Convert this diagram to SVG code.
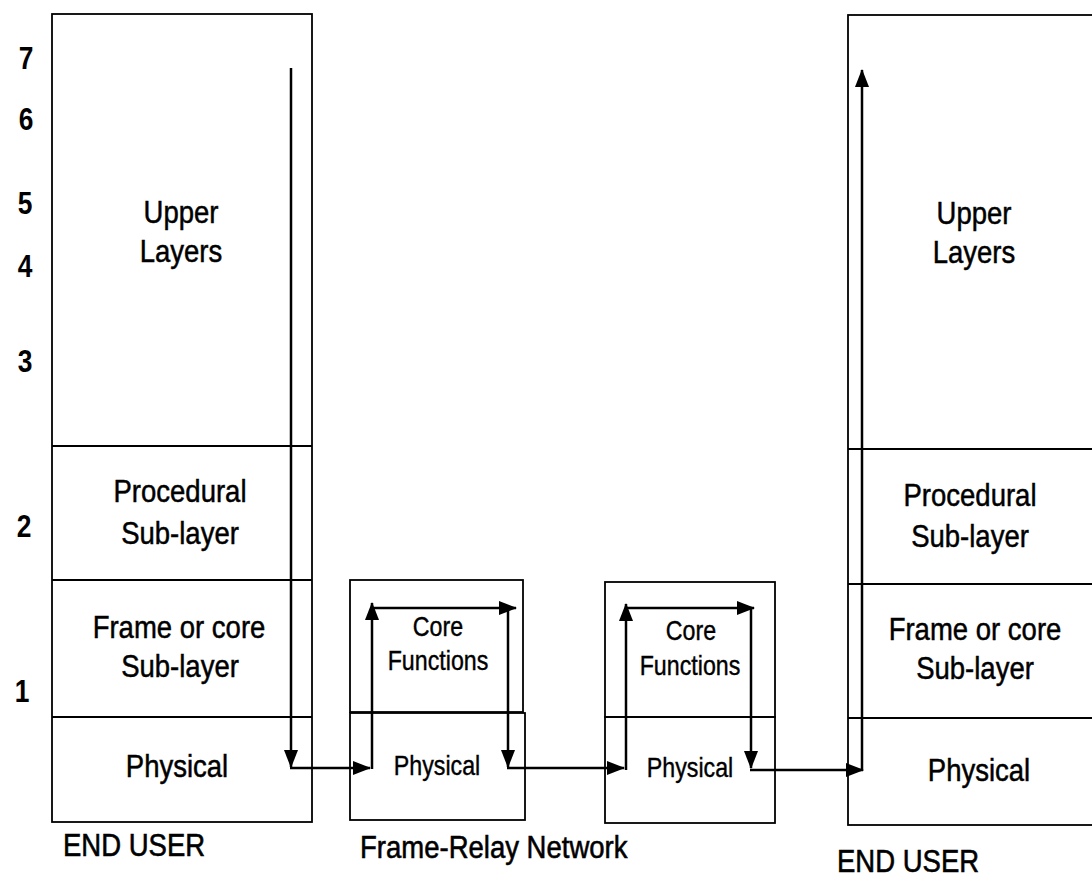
<svg xmlns="http://www.w3.org/2000/svg" width="1092" height="880" viewBox="0 0 1092 880">
  <style>
    .box { fill: none; stroke: #000; stroke-width: 1.8; }
    .t { font-family: "Liberation Sans", Arial, sans-serif; font-size: 32px; fill: #000; stroke: #000; stroke-width: 0.5; text-anchor: middle; }
    .s { font-family: "Liberation Sans", Arial, sans-serif; font-size: 27px; fill: #000; stroke: #000; stroke-width: 0.4; text-anchor: middle; }
    .lbl { font-family: "Liberation Sans", Arial, sans-serif; font-size: 32px; fill: #000; stroke: #000; stroke-width: 0.6; }
    .num { font-family: "Liberation Sans", Arial, sans-serif; font-size: 31px; font-weight: bold; fill: #000; text-anchor: middle; }
    .flow { fill: none; stroke: #000; stroke-width: 2.5; }
  </style>
  <defs>
    <marker id="ah" viewBox="0 0 18 14" refX="17" refY="7" markerWidth="18" markerHeight="14" markerUnits="userSpaceOnUse" orient="auto">
      <path d="M0,0 L18,7 L0,14 Z" fill="#000"/>
    </marker>
  </defs>
  <rect width="1092" height="880" fill="#fff"/>

  <!-- layer numbers -->
  <g id="layer-numbers">
    <text class="num" transform="translate(26 69) scale(0.85 1)">7</text>
    <text class="num" transform="translate(26 130) scale(0.85 1)">6</text>
    <text class="num" transform="translate(25 214) scale(0.85 1)">5</text>
    <text class="num" transform="translate(25 277) scale(0.85 1)">4</text>
    <text class="num" transform="translate(25 372) scale(0.85 1)">3</text>
    <text class="num" transform="translate(24 537) scale(0.85 1)">2</text>
    <text class="num" transform="translate(22 702) scale(0.85 1)">1</text>
  </g>

  <!-- left end-user stack -->
  <g id="left-stack">
    <rect class="box" x="52" y="14" width="260" height="808"/>
    <line class="box" x1="52" y1="446" x2="312" y2="446"/>
    <line class="box" x1="52" y1="580" x2="312" y2="580"/>
    <line class="box" x1="52" y1="717" x2="312" y2="717"/>
    <text class="t" transform="translate(181 223) scale(0.86 1)">Upper</text>
    <text class="t" transform="translate(181 262) scale(0.86 1)">Layers</text>
    <text class="t" transform="translate(180 502) scale(0.86 1)">Procedural</text>
    <text class="t" transform="translate(180 544) scale(0.86 1)">Sub-layer</text>
    <text class="t" transform="translate(179 638) scale(0.86 1)">Frame or core</text>
    <text class="t" transform="translate(180 677) scale(0.86 1)">Sub-layer</text>
    <text class="t" transform="translate(177 777) scale(0.86 1)">Physical</text>
    <text class="lbl" transform="translate(63 856) scale(0.86 1)">END USER</text>
  </g>

  <!-- first frame-relay node -->
  <g id="node-1">
    <rect class="box" x="350" y="580" width="173" height="132"/>
    <rect class="box" x="350" y="713" width="175" height="107"/>
    <text class="s" transform="translate(438 636) scale(0.86 1)">Core</text>
    <text class="s" transform="translate(438 670) scale(0.86 1)">Functions</text>
    <text class="s" transform="translate(437 775) scale(0.86 1)">Physical</text>
  </g>

  <!-- second frame-relay node -->
  <g id="node-2">
    <rect class="box" x="605" y="582" width="170" height="135"/>
    <rect class="box" x="605" y="717" width="170" height="106"/>
    <text class="s" transform="translate(691 640) scale(0.86 1)">Core</text>
    <text class="s" transform="translate(690 675) scale(0.86 1)">Functions</text>
    <text class="s" transform="translate(690 777) scale(0.86 1)">Physical</text>
  </g>

  <g id="network-label">
    <text class="lbl" transform="translate(360 858) scale(0.86 1)">Frame-Relay Network</text>
  </g>

  <!-- right end-user stack -->
  <g id="right-stack">
    <rect class="box" x="848" y="15" width="260" height="810"/>
    <line class="box" x1="848" y1="449" x2="1100" y2="449"/>
    <line class="box" x1="848" y1="584" x2="1100" y2="584"/>
    <line class="box" x1="848" y1="718" x2="1100" y2="718"/>
    <text class="t" transform="translate(974 224) scale(0.86 1)">Upper</text>
    <text class="t" transform="translate(974 263) scale(0.86 1)">Layers</text>
    <text class="t" transform="translate(970 506) scale(0.86 1)">Procedural</text>
    <text class="t" transform="translate(970 547) scale(0.86 1)">Sub-layer</text>
    <text class="t" transform="translate(975 640) scale(0.86 1)">Frame or core</text>
    <text class="t" transform="translate(975 679) scale(0.86 1)">Sub-layer</text>
    <text class="t" transform="translate(979 781) scale(0.86 1)">Physical</text>
    <text class="lbl" transform="translate(837 872) scale(0.86 1)">END USER</text>
  </g>

  <!-- data path through the layers -->
  <g id="connectors">
    <line class="flow" x1="291" y1="68" x2="291" y2="767" marker-end="url(#ah)"/>
    <line class="flow" x1="290" y1="768" x2="370" y2="768" marker-end="url(#ah)"/>

    <line class="flow" x1="372" y1="769" x2="372" y2="603" marker-end="url(#ah)"/>
    <line class="flow" x1="372" y1="608" x2="516" y2="608" marker-end="url(#ah)"/>
    <line class="flow" x1="508" y1="608" x2="508" y2="767" marker-end="url(#ah)"/>
    <line class="flow" x1="507" y1="768" x2="624" y2="768" marker-end="url(#ah)"/>

    <line class="flow" x1="626" y1="770" x2="626" y2="604" marker-end="url(#ah)"/>
    <line class="flow" x1="626" y1="608" x2="754" y2="608" marker-end="url(#ah)"/>
    <line class="flow" x1="751" y1="608" x2="751" y2="768" marker-end="url(#ah)"/>
    <line class="flow" x1="750" y1="770" x2="863" y2="770" marker-end="url(#ah)"/>

    <line class="flow" x1="862" y1="771" x2="862" y2="70" marker-end="url(#ah)"/>
  </g>
</svg>
